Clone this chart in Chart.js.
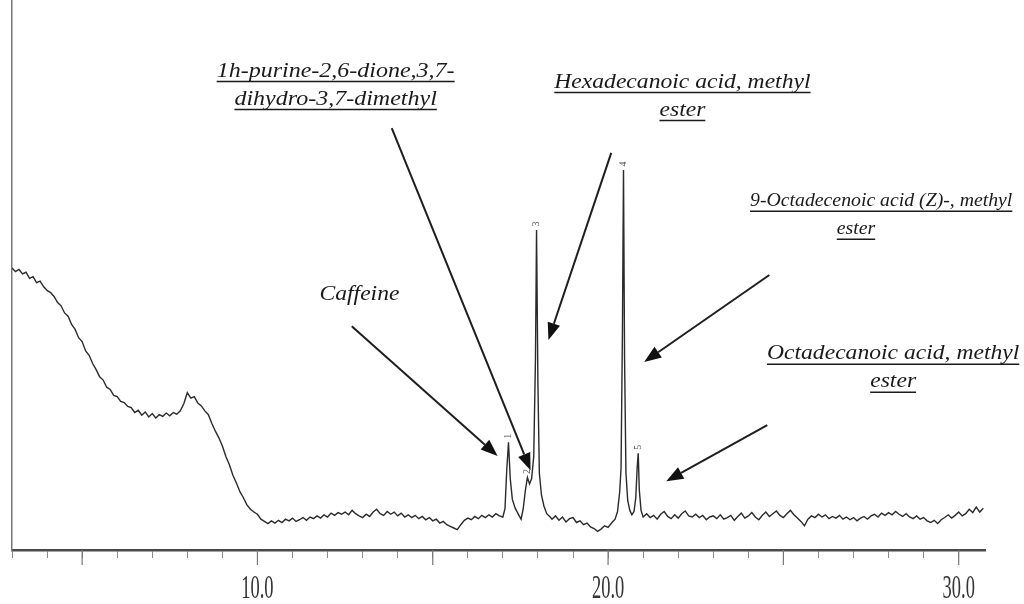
<!DOCTYPE html>
<html>
<head>
<meta charset="utf-8">
<script src="https://cdn.jsdelivr.net/npm/chart.js@4.4.1/dist/chart.umd.min.js"></script>
<style>
  body { margin: 0; background: #fff; }
  #wrap { width: 1024px; height: 604px; }
</style>
</head>
<body>
<div id="wrap"><canvas id="gcChart"></canvas></div>
<script>
// retention time (min)
var times = [
  3.0, 3.1, 3.2, 3.3, 3.4, 3.5, 3.6, 3.7, 3.8, 3.9,
  4.0, 4.1, 4.2, 4.3, 4.4, 4.5, 4.6, 4.7, 4.8, 4.9,
  5.0, 5.1, 5.2, 5.3, 5.4, 5.5, 5.6, 5.7, 5.8, 5.9,
  6.0, 6.1, 6.2, 6.3, 6.4, 6.5, 6.6, 6.7, 6.8, 6.9,
  7.0, 7.1, 7.2, 7.3, 7.4, 7.5, 7.6, 7.7, 7.8, 7.9,
  8.0, 8.1, 8.2, 8.3, 8.4, 8.5, 8.6, 8.7, 8.8, 8.9,
  9.0, 9.1, 9.2, 9.3, 9.4, 9.5, 9.6, 9.7, 9.8, 9.9,
  10.0, 10.1, 10.2, 10.3, 10.4, 10.5, 10.6, 10.7, 10.8, 10.9,
  11.0, 11.1, 11.2, 11.3, 11.4, 11.5, 11.6, 11.7, 11.8, 11.9,
  12.0, 12.1, 12.2, 12.3, 12.4, 12.5, 12.6, 12.7, 12.8, 12.9,
  13.0, 13.1, 13.2, 13.3, 13.4, 13.5, 13.6, 13.7, 13.8, 13.9,
  14.0, 14.1, 14.2, 14.3, 14.4, 14.5, 14.6, 14.7, 14.8, 14.9,
  15.0, 15.1, 15.2, 15.3, 15.4, 15.5, 15.6, 15.7, 15.8, 15.9,
  16.0, 16.1, 16.2, 16.3, 16.4, 16.5, 16.6, 16.7, 16.8, 16.9,
  17.0, 17.06, 17.11, 17.16, 17.21, 17.27, 17.35, 17.45, 17.52, 17.58,
  17.64, 17.70, 17.76, 17.82, 17.88, 17.93, 17.96, 18.00, 18.04, 18.10,
  18.17, 18.25, 18.35, 18.4, 18.5, 18.6, 18.7, 18.8, 18.9, 19.0,
  19.1, 19.2, 19.3, 19.4, 19.5, 19.6, 19.7, 19.8, 19.9, 20.0,
  20.1, 20.2, 20.27, 20.33, 20.37, 20.41, 20.44, 20.47, 20.51, 20.56,
  20.62, 20.68, 20.74, 20.79, 20.83, 20.86, 20.89, 20.94, 21.0, 21.1,
  21.2, 21.3, 21.4, 21.5, 21.6, 21.7, 21.8, 21.9, 22.0, 22.1,
  22.2, 22.3, 22.4, 22.5, 22.6, 22.7, 22.8, 22.9, 23.0, 23.1,
  23.2, 23.3, 23.4, 23.5, 23.6, 23.7, 23.8, 23.9, 24.0, 24.1,
  24.2, 24.3, 24.4, 24.5, 24.6, 24.7, 24.8, 24.9, 25.0, 25.1,
  25.2, 25.3, 25.4, 25.5, 25.6, 25.7, 25.8, 25.9, 26.0, 26.1,
  26.2, 26.3, 26.4, 26.5, 26.6, 26.7, 26.8, 26.9, 27.0, 27.1,
  27.2, 27.3, 27.4, 27.5, 27.6, 27.7, 27.8, 27.9, 28.0, 28.1,
  28.2, 28.3, 28.4, 28.5, 28.6, 28.7, 28.8, 28.9, 29.0, 29.1,
  29.2, 29.3, 29.4, 29.5, 29.6, 29.7, 29.8, 29.9, 30.0, 30.1,
  30.2, 30.3, 30.4, 30.5, 30.6, 30.7
];

// detector response (relative)
var abundance = [
  51.3, 50.6, 51.0, 50.2, 50.5, 49.4, 49.7, 48.6, 48.9, 47.9,
  47.2, 46.8, 46.1, 45.0, 44.4, 43.1, 42.5, 41.0, 40.1, 38.6,
  37.9, 36.2, 35.4, 33.9, 32.8, 31.5, 30.9, 29.6, 29.2, 28.1,
  27.9, 27.0, 26.8, 26.1, 25.9, 25.0, 25.4, 24.5, 25.1, 24.2,
  24.8, 24.0, 24.6, 24.3, 24.9, 24.4, 25.0, 24.7, 25.3, 26.6,
  28.6, 27.6, 27.9, 26.7, 26.2, 25.3, 24.6, 23.0, 21.6, 20.4,
  18.9, 17.0, 15.5, 13.6, 12.2, 10.6, 9.5, 8.2, 7.4, 6.9,
  6.5, 5.6, 5.2, 4.8, 5.3, 4.9, 5.4, 5.0, 5.6, 5.3,
  5.8, 5.2, 5.5, 5.9, 5.4, 6.0, 5.7, 6.2, 5.8, 6.4,
  6.0, 6.7, 6.3, 6.8, 6.5, 6.9, 6.4, 7.2, 6.6, 6.2,
  5.9, 6.5, 6.1, 6.9, 7.4, 6.6, 6.3, 7.0, 6.5, 6.9,
  6.2, 6.7, 6.0, 6.4, 5.9, 6.3, 5.7, 6.1, 5.5, 5.9,
  5.3, 5.6, 4.9, 5.2, 4.6, 4.3, 4.0, 3.7, 4.6, 5.4,
  5.8, 5.5, 6.1, 5.7, 6.3, 5.9, 6.4, 6.0, 6.6, 6.2,
  6.0, 7.5, 14.5, 19.6, 13.0, 9.2, 7.6, 6.4, 5.6, 7.5,
  10.8, 13.2, 12.0, 13.0, 17.0, 35.0, 58.2, 30.0, 14.0, 10.0,
  8.0, 6.6, 6.0, 5.6, 6.2, 5.4, 6.0, 5.1, 5.7, 5.9,
  5.0, 5.3, 4.6, 4.9, 4.2, 3.9, 3.4, 3.8, 4.4, 4.1,
  4.9, 5.6, 7.0, 10.5, 14.8, 40.0, 69.1, 35.0, 14.0, 9.0,
  7.2, 6.4, 7.0, 9.5, 15.0, 17.6, 11.0, 7.2, 6.0, 6.6,
  5.9, 6.3, 5.6, 6.5, 7.0, 6.1, 5.7, 6.4, 5.8, 6.6,
  7.1, 6.2, 6.0, 6.5, 5.9, 6.3, 5.5, 6.0, 6.2, 5.7,
  6.4, 5.6, 5.9, 6.3, 5.4, 6.1, 6.7, 5.8, 6.2, 6.8,
  6.0, 5.5, 6.3, 6.9, 6.1, 6.6, 7.1, 6.3, 5.9, 6.6,
  7.2, 6.4, 5.8, 5.2, 4.4, 5.6, 6.2, 5.9, 6.5, 6.0,
  6.4, 5.7, 6.1, 5.8, 6.3, 5.6, 6.0, 5.5, 5.9, 5.3,
  5.8, 6.1, 5.6, 6.2, 6.5, 6.0, 6.7, 6.3, 6.8, 6.4,
  7.0, 6.5, 6.1, 6.6, 6.0, 5.7, 6.2, 5.6, 5.9, 5.3,
  5.0, 5.4, 4.8, 5.5, 5.9, 6.4, 5.8, 6.3, 6.9, 6.2,
  6.6, 7.4, 6.8, 7.8, 6.9, 7.6
];

var xTickLabels = [10, 20, 30];
var majorTicks = [5, 10, 15, 20, 25, 30];

// small peak numbers printed above the peaks
var peakNumbers = ['1', '2', '3', '4', '5'];
var peakTimes = [17.16, 17.70, 17.96, 20.44, 20.86];

// compound annotations: text (data coords) and arrow tail -> head (data coords)
var annotations = [
  { lines: ['Caffeine'], x: 12.91, y: 46.4, underline: false, size: 20, sx: 1.18,
    from: [12.69, 40.7], to: [16.85, 17.1] },
  { lines: ['1h-purine-2,6-dione,3,7-', 'dihydro-3,7-dimethyl'], x: 12.23, y: 87.0, underline: true, size: 20, sx: 1.2,
    from: [13.83, 76.7], to: [17.79, 14.5] },
  { lines: ['Hexadecanoic acid, methyl', 'ester'], x: 22.12, y: 85.0, underline: true, size: 20, sx: 1.18,
    from: [20.09, 72.2], to: [18.30, 38.2] },
  { lines: ['9-Octadecenoic acid (Z)-, methyl', 'ester'], x: 27.79, y: 63.4, underline: true, size: 19, sx: 1.04,
    lineX: [27.79, 27.07], from: [24.60, 50.0], to: [21.03, 34.2] },
  { lines: ['Octadecanoic acid, methyl', 'ester'], x: 28.13, y: 35.6, underline: true, size: 20, sx: 1.18,
    from: [24.54, 22.7], to: [21.66, 12.5] }
];

var points = times.map(function (t, i) { return { x: t, y: abundance[i] }; });

function drawArrow(ctx, x1, y1, x2, y2) {
  var ang = Math.atan2(y2 - y1, x2 - x1);
  var len = 17, half = 6.5;
  var bx = x2 - len * Math.cos(ang), by = y2 - len * Math.sin(ang);
  ctx.strokeStyle = '#1e1e1e';
  ctx.lineWidth = 2;
  ctx.beginPath();
  ctx.moveTo(x1, y1);
  ctx.lineTo(bx, by);
  ctx.stroke();
  ctx.fillStyle = '#111';
  ctx.beginPath();
  ctx.moveTo(x2, y2);
  ctx.lineTo(bx + half * Math.sin(ang), by - half * Math.cos(ang));
  ctx.lineTo(bx - half * Math.sin(ang), by + half * Math.cos(ang));
  ctx.closePath();
  ctx.fill();
}

function drawStretched(ctx, text, cx, cy, sx, underline) {
  ctx.save();
  ctx.translate(cx, cy);
  ctx.scale(sx, 1);
  ctx.fillText(text, 0, 0);
  if (underline) {
    var w = ctx.measureText(text).width;
    ctx.lineWidth = 1.4;
    ctx.beginPath();
    ctx.moveTo(-w / 2, 10);
    ctx.lineTo(w / 2, 10);
    ctx.stroke();
  }
  ctx.restore();
}

var overlay = {
  id: 'overlay',
  afterDraw: function (chart) {
    var ctx = chart.ctx;
    var xs = chart.scales.x, ys = chart.scales.y;
    var base = chart.chartArea.bottom;
    ctx.save();

    // longer ticks every 5 min
    ctx.strokeStyle = '#777';
    ctx.lineWidth = 1.2;
    majorTicks.forEach(function (t) {
      var px = xs.getPixelForValue(t);
      ctx.beginPath();
      ctx.moveTo(px, base);
      ctx.lineTo(px, base + 15);
      ctx.stroke();
    });

    // condensed tick labels
    ctx.fillStyle = '#333';
    ctx.font = '33px "Liberation Serif"';
    ctx.textAlign = 'center';
    ctx.textBaseline = 'middle';
    xTickLabels.forEach(function (t) {
      drawStretched(ctx, t.toFixed(1), xs.getPixelForValue(t), base + 39, 0.56, false);
    });

    // peak numbers, rotated
    ctx.font = '10px "Liberation Serif"';
    ctx.fillStyle = '#555';
    peakTimes.forEach(function (t, i) {
      var v = abundance[times.indexOf(t)];
      ctx.save();
      ctx.translate(xs.getPixelForValue(t), ys.getPixelForValue(v) - 6);
      ctx.rotate(-Math.PI / 2);
      ctx.fillText(peakNumbers[i], 0, 0);
      ctx.restore();
    });

    // compound names and arrows
    annotations.forEach(function (a) {
      var py = ys.getPixelForValue(a.y);
      ctx.font = 'italic ' + a.size + 'px "Liberation Serif"';
      a.lines.forEach(function (line, k) {
        var lx = a.lineX ? a.lineX[k] : a.x;
        ctx.fillStyle = '#1a1a1a';
        ctx.strokeStyle = '#1a1a1a';
        drawStretched(ctx, line, xs.getPixelForValue(lx), py + k * 28, a.sx, a.underline);
      });
      drawArrow(ctx,
        xs.getPixelForValue(a.from[0]), ys.getPixelForValue(a.from[1]),
        xs.getPixelForValue(a.to[0]), ys.getPixelForValue(a.to[1]));
    });
    ctx.restore();
  }
};

new Chart(document.getElementById('gcChart'), {
  type: 'line',
  data: {
    datasets: [{
      data: points,
      borderColor: '#2a2a2a',
      borderWidth: 1.4,
      pointRadius: 0,
      tension: 0,
      fill: false
    }]
  },
  options: {
    responsive: true,
    maintainAspectRatio: false,
    animation: false,
    layout: { padding: { left: 4, right: 39, top: 0, bottom: 46 } },
    plugins: {
      legend: { display: false },
      tooltip: { enabled: false }
    },
    scales: {
      x: {
        type: 'linear',
        min: 3,
        max: 30.75,
        ticks: { display: false, stepSize: 1, includeBounds: false },
        grid: { drawOnChartArea: false, drawTicks: true, tickLength: 8, color: '#8a8a8a', lineWidth: 1 },
        border: { display: true, color: '#4a4a4a', width: 2.5 }
      },
      y: {
        min: 0,
        max: 100,
        ticks: { display: false },
        grid: { display: false },
        border: { display: true, color: '#777', width: 1.5 }
      }
    }
  },
  plugins: [overlay]
});
</script>
</body>
</html>
